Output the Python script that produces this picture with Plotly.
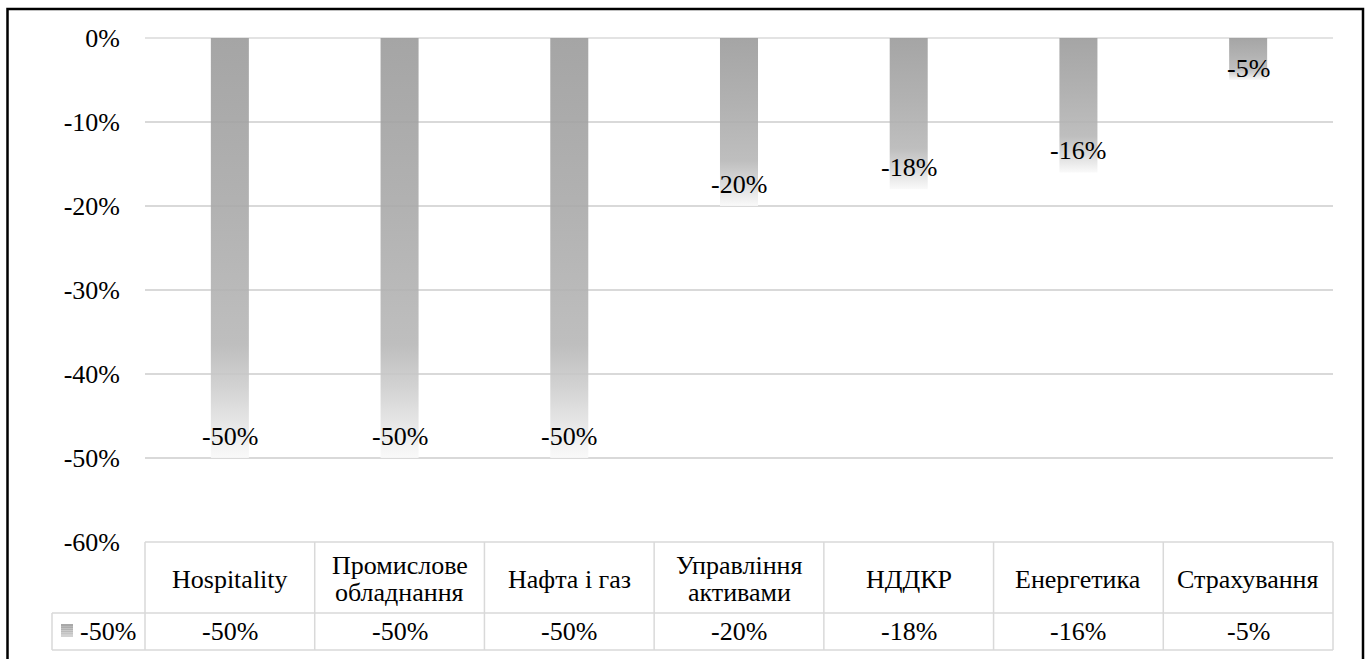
import plotly.graph_objects as go

# Sector names (header row of the data table) and the percentage change per sector
categories = ["Hospitality", "Промислове<br>обладнання", "Нафта і газ",
              "Управління<br>активами", "НДДКР", "Енергетика", "Страхування"]
values = [-50, -50, -50, -20, -18, -16, -5]
series_name = "-50%"
y_ticks = [0, -10, -20, -30, -40, -50, -60]

# Canvas geometry
W, H = 1368, 659
L, R, T, B = 145, 35, 38, 117
PW, PH = W - L - R, H - T - B
FONT = "Times New Roman, Liberation Serif, Tinos, DejaVu Serif, serif"
FS = 26
GRID = "#d9d9d9"
LINE_GAP = 27  # px between wrapped header lines


def px_x(px):
    return (px - L) / PW


def px_y(py):
    return (T + PH - py) / PH


def soft(gray, alpha=0.9):
    # semi-transparent gray that shows the given shade on white
    c = round((gray - (1 - alpha) * 255) / alpha)
    return f"rgba({c},{c},{c},{alpha})"


# gradient from light bottom (0) to dark top (1)
bar_scale = [[0.0, soft(250)], [0.17, soft(210)], [0.27, soft(190)],
             [0.6, soft(178)], [1.0, soft(165)]]

fig = go.Figure()
half = 0.112
for i, v in enumerate(values):
    fig.add_trace(go.Scatter(
        x=[i - half, i + half, i + half, i - half, i - half],
        y=[0, 0, v, v, 0],
        mode="lines", line=dict(width=0), fill="toself",
        fillgradient=dict(type="vertical", colorscale=bar_scale, start=v, stop=0),
        hoverinfo="skip", showlegend=False,
    ))

# data labels just inside the bar ends
px_per_unit = PH / 60
for i, v in enumerate(values):
    bar_px = abs(v) * px_per_unit
    off = min(22, bar_px / 2 - 9)
    fig.add_annotation(x=i, y=v, xref="x", yref="y", text=f"{v}%",
                       showarrow=False, yanchor="middle", yshift=off,
                       font=dict(family=FONT, size=FS, color="#000"))

shapes = []
# data table under the plot area
n = len(categories)
row1_bot = px_y(613)
row2_bot = px_y(650)
legend_left = px_x(52)
line = dict(color=GRID, width=1.5)
shapes.append(dict(type="line", xref="paper", yref="paper", x0=0, x1=1, y0=0, y1=0, line=line))
shapes.append(dict(type="line", xref="paper", yref="paper", x0=legend_left, x1=1,
                   y0=row1_bot, y1=row1_bot, line=line))
shapes.append(dict(type="line", xref="paper", yref="paper", x0=legend_left, x1=1,
                   y0=row2_bot, y1=row2_bot, line=line))
shapes.append(dict(type="line", xref="paper", yref="paper", x0=legend_left, x1=legend_left,
                   y0=row1_bot, y1=row2_bot, line=line))
for k in range(n + 1):
    shapes.append(dict(type="line", xref="paper", yref="paper", x0=k / n, x1=k / n,
                       y0=0, y1=row2_bot, line=line))

# legend key swatch with a small vertical gradient
key_top, key_bot = 624, 637
steps = [168, 172, 178, 186, 196, 210]
h = (key_bot - key_top) / len(steps)
for j, g in enumerate(steps):
    shapes.append(dict(type="rect", xref="paper", yref="paper",
                       x0=px_x(61), x1=px_x(73),
                       y0=px_y(key_top + (j + 1) * h), y1=px_y(key_top + j * h),
                       fillcolor=f"rgb({g},{g},{g})", line=dict(width=0)))

# outer frame
shapes.append(dict(type="rect", xref="paper", yref="paper",
                   x0=px_x(7.5), x1=px_x(1363), y0=px_y(700), y1=px_y(9),
                   line=dict(color="#000", width=2.5), fillcolor="rgba(0,0,0,0)",
                   layer="above"))

hdr_y = px_y(579)
val_y = (row1_bot + row2_bot) / 2
for i, c in enumerate(categories):
    parts = c.split("<br>")
    for k, part in enumerate(parts):
        shift = ((len(parts) - 1) / 2 - k) * LINE_GAP
        fig.add_annotation(x=i, xref="x", y=hdr_y, yref="paper", text=part,
                           showarrow=False, yanchor="middle", yshift=shift,
                           font=dict(family=FONT, size=FS, color="#000"))
    fig.add_annotation(x=i, xref="x", y=val_y, yref="paper", text=f"{values[i]}%",
                       showarrow=False, yanchor="middle",
                       font=dict(family=FONT, size=FS, color="#000"))
fig.add_annotation(x=px_x(78), xref="paper", y=val_y, yref="paper", text=series_name,
                   showarrow=False, xanchor="left", yanchor="middle",
                   font=dict(family=FONT, size=FS, color="#000"))

fig.update_layout(
    width=W, height=H,
    margin=dict(l=L, r=R, t=T, b=B, pad=0),
    paper_bgcolor="white", plot_bgcolor="white",
    showlegend=False,
    shapes=shapes,
    font=dict(family=FONT, size=FS, color="#000"),
    xaxis=dict(range=[-0.5, n - 0.5], showgrid=False, zeroline=False, showline=False,
               showticklabels=False, ticks="", fixedrange=True),
    yaxis=dict(range=[-60, 0], tickvals=y_ticks, ticktext=[f"{t}%" for t in y_ticks],
               showgrid=True, gridcolor=GRID, gridwidth=1.5,
               zeroline=True, zerolinecolor="#e3e3e3", zerolinewidth=2,
               showline=False, ticks="", ticklabelstandoff=24,
               tickfont=dict(family=FONT, size=FS, color="#000"), fixedrange=True),
)

fig.write_html("out.html")
